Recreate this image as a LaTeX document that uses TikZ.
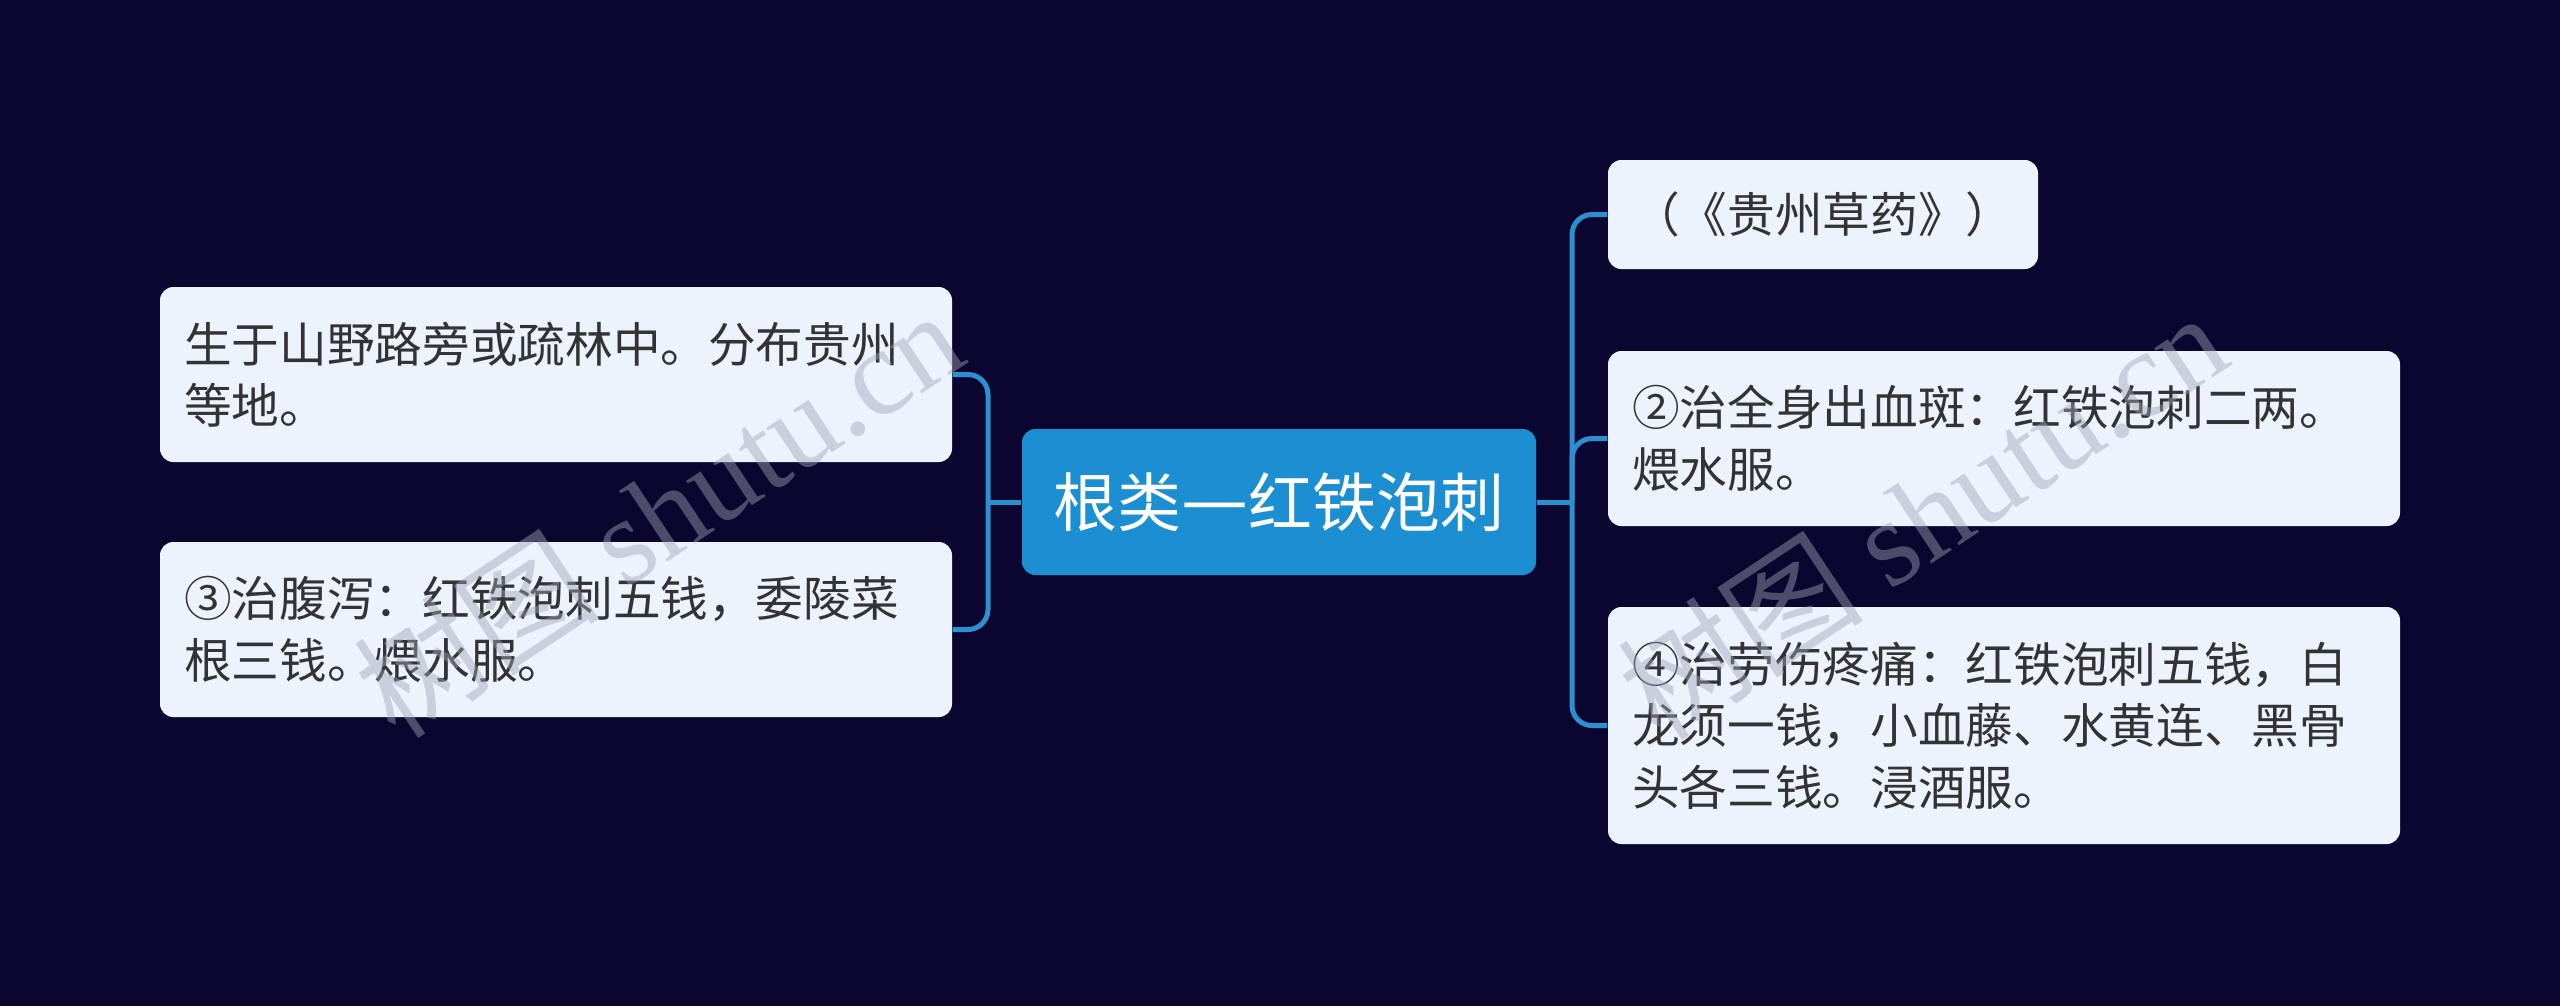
\documentclass[tikz,border=0pt]{standalone}
\usepackage{fontspec}
\setmainfont{Noto Sans CJK SC}
\newfontfamily\wmfont{Liberation Serif}
\newfontfamily\wmcjk{Noto Sans CJK SC}
\definecolor{bgc}{HTML}{0B0630}
\definecolor{mainc}{HTML}{1B8FD2}
\definecolor{linec}{HTML}{2A90D0}
\definecolor{leafc}{HTML}{EDF3FD}
\definecolor{txtc}{HTML}{333333}
\definecolor{wmc}{HTML}{9EA4B4}
\begin{document}
\begin{tikzpicture}[x=0.3pt,y=-0.3pt,
  centerbox/.style={fill=mainc, rounded corners=4pt, text=white,
    minimum width=154.2pt, minimum height=43.8pt, inner sep=0pt,
    font=\fontsize{19.2pt}{23pt}\selectfont},
  leafbox/.style={fill=leafc, rounded corners=4pt, text=txtc, align=left,
    inner xsep=7.2pt, inner ysep=0pt,
    font=\fontsize{14.3pt}{18.5pt}\selectfont},
  conn/.style={draw=linec, line width=1.5pt, rounded corners=6pt},
  wmark/.style={text=wmc, opacity=0.45, rotate=33.5, inner sep=0pt,
    font=\fontsize{37pt}{40pt}\selectfont}
]
\fill[bgc] (0,0) rectangle (2560,1006);
\useasboundingbox (0,0) rectangle (2560,1006);

\node[centerbox] (C) at (1279,502) {根类\makebox[1.05em]{\resizebox{1.05em}{!}{—}}红铁泡刺};

\node[leafbox, text width=223.2pt, minimum height=52.5pt] (L1) at (556,374.5)
  {生于山野路旁或疏林中。分布贵州\\等地。};
\node[leafbox, text width=223.2pt, minimum height=52.5pt] (L2) at (556,629.5)
  {③治腹泻：红铁泡刺五钱，委陵菜\\根三钱。煨水服。};

\node[leafbox, text width=114.6pt, minimum height=32.7pt] (R1) at (1823,214.5)
  {（《贵州草药》）};
\node[leafbox, text width=223.2pt, minimum height=52.5pt] (R2) at (2004,438.5)
  {②治全身出血斑：红铁泡刺二两。\\煨水服。};
\node[leafbox, text width=223.2pt, minimum height=71.1pt] (R3) at (2004,725.5)
  {④治劳伤疼痛：红铁泡刺五钱，白\\龙须一钱，小血藤、水黄连、黑骨\\头各三钱。浸酒服。};

\coordinate (LJ) at (988,502);
\coordinate (RJ) at (1572,502);

\draw[conn] (C.west) -- (LJ);
\draw[conn] (L1.east) -| (LJ) |- (L2.east);
\draw[conn] (C.east) -- (RJ);
\draw[conn] (R1.west) -| (RJ) |- (R3.west);
\draw[conn] (RJ) |- (R2.west);

\node[wmark] (W1) at (658,512) {{\wmcjk 树图} {\wmfont shutu.cn}};
\node[wmark] (W2) at (1922,514) {{\wmcjk 树图} {\wmfont shutu.cn}};
\end{tikzpicture}
\end{document}
